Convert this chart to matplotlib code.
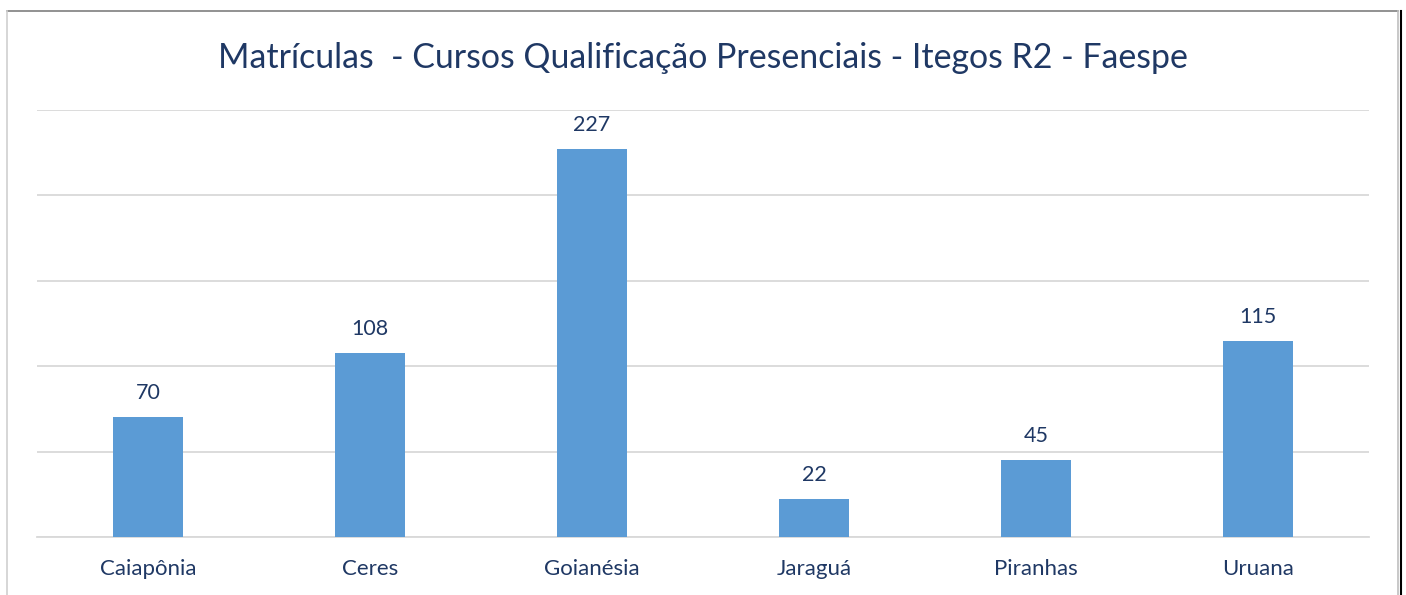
import matplotlib.pyplot as plt
from matplotlib.lines import Line2D

cidades = ["Caiapônia", "Ceres", "Goianésia", "Jaraguá", "Piranhas", "Uruana"]
matriculas = [70, 108, 227, 22, 45, 115]
titulo = "Matrículas  - Cursos Qualificação Presenciais - Itegos R2 - Faespe"

W, H = 1406, 595
fig = plt.figure(figsize=(W / 100, H / 100), dpi=100)
plt.rcParams['font.family'] = ['Lato', 'DejaVu Sans']

navy = "#1F3864"
ax = fig.add_axes([37 / W, 1 - 537 / H, (1369 - 37) / W, (537 - 110) / H])

x = range(len(cidades))
ax.bar(x, matriculas, width=0.315, color="#5B9BD5", zorder=3)
for xi, v in zip(x, matriculas):
    ax.annotate(str(v), (xi, v), xytext=(0, 14), textcoords="offset pixels",
                ha="center", va="bottom", fontsize=15.5, color=navy)

ax.set_xlim(-0.5, len(cidades) - 0.5)
ax.set_ylim(0, 250)
ax.set_yticks(range(0, 251, 50))
ax.yaxis.grid(True, color="#D9D9D9", linewidth=1.3, zorder=0)
ax.tick_params(axis="y", left=False, labelleft=False)
ax.tick_params(axis="x", length=0, pad=16, labelsize=16, labelcolor=navy)
ax.set_xticks(list(x))
ax.set_xticklabels(cidades)
for s in ["top", "right", "left"]:
    ax.spines[s].set_visible(False)
ax.spines["bottom"].set_color("#D9D9D9")
ax.spines["bottom"].set_linewidth(1.3)

fig.text(0.5, 1 - 58 / H, titulo, ha="center", va="center", fontsize=24.4, color=navy)

# chart frame
fig.add_artist(Line2D([7 / W, 1398 / W], [1 - 11 / H, 1 - 11 / H], color="#7F7F7F", lw=1.2))
fig.add_artist(Line2D([7 / W, 7 / W], [0, 1 - 11 / H], color="#D0D0D0", lw=1.2))
fig.add_artist(Line2D([1398 / W, 1398 / W], [0, 1 - 11 / H], color="#BFBFBF", lw=1.2))
fig.add_artist(Line2D([1400.5 / W, 1400.5 / W], [0, 1 - 11 / H], color="black", lw=1.5))

fig.savefig("out.png", dpi=100)
